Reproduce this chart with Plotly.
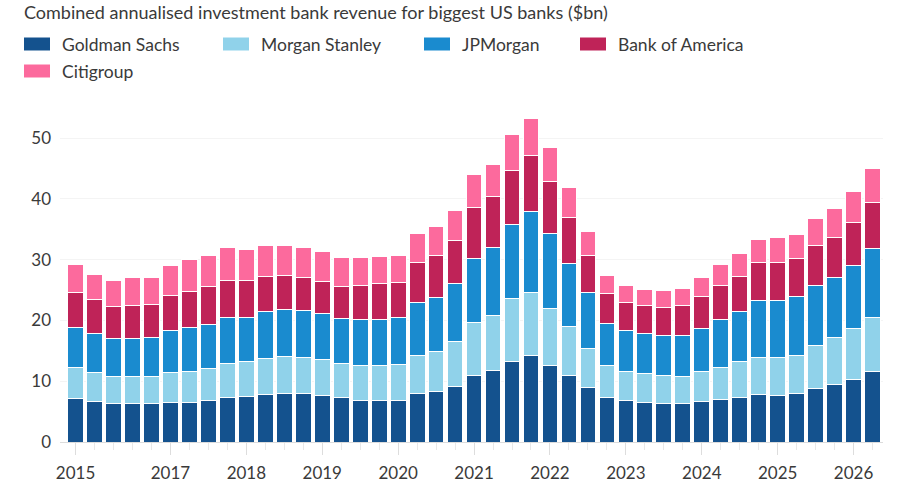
import plotly.graph_objects as go

# Quarterly periods (annualised trailing revenue), 2015 Q4 .. 2026 Q2
quarters = [f"{y} Q{q}" for y in range(2015, 2027) for q in range(1, 5)]
quarters = quarters[3:3 + 43]

goldman = [7.2, 6.7, 6.4, 6.4, 6.3, 6.5, 6.5, 6.8, 7.4, 7.5, 7.8, 8.0, 7.9, 7.6, 7.4,
           6.9, 6.8, 6.9, 7.9, 8.3, 9.1, 10.9, 11.8, 13.3, 14.2, 12.6, 10.9, 9.0, 7.4,
           6.8, 6.5, 6.4, 6.3, 6.7, 7.0, 7.3, 7.8, 7.6, 8.0, 8.8, 9.5, 10.3, 11.6]
morgan = [5.0, 4.8, 4.4, 4.3, 4.5, 4.9, 5.1, 5.3, 5.5, 5.8, 5.9, 6.1, 6.0, 5.9, 5.5,
          5.7, 5.8, 5.8, 6.3, 6.6, 7.4, 8.8, 9.0, 10.3, 10.4, 9.4, 8.1, 6.4, 5.2,
          4.8, 4.7, 4.5, 4.5, 4.9, 5.3, 5.9, 6.1, 6.3, 6.3, 7.0, 7.7, 8.3, 8.9]
jpm = [6.6, 6.4, 6.3, 6.4, 6.4, 7.0, 7.3, 7.3, 7.6, 7.2, 7.7, 7.7, 7.7, 7.6, 7.4,
       7.5, 7.5, 7.7, 8.7, 8.8, 9.5, 10.5, 11.2, 12.2, 13.3, 12.3, 10.4, 9.2, 6.9,
       6.7, 6.6, 6.6, 6.7, 7.0, 7.8, 8.3, 9.3, 9.4, 9.6, 10.0, 9.9, 10.4, 11.3]
bofa = [5.8, 5.5, 5.2, 5.4, 5.4, 5.7, 5.9, 6.1, 6.1, 6.1, 5.9, 5.6, 5.5, 5.3, 5.3,
        5.6, 5.9, 5.9, 6.7, 6.9, 7.1, 8.3, 8.3, 8.8, 9.2, 8.6, 7.5, 6.1, 5.0,
        4.7, 4.7, 4.7, 4.9, 5.3, 5.6, 5.8, 6.3, 6.3, 6.2, 6.6, 6.5, 7.1, 7.6]
citi = [4.6, 4.2, 4.3, 4.5, 4.4, 4.9, 5.2, 5.2, 5.4, 5.1, 5.0, 5.0, 4.9, 5.0, 4.7,
        4.6, 4.5, 4.4, 4.7, 4.9, 5.0, 5.5, 5.4, 5.9, 6.1, 5.5, 5.0, 3.9, 2.9,
        2.7, 2.6, 2.8, 2.9, 3.1, 3.5, 3.7, 3.8, 4.0, 4.0, 4.4, 4.8, 5.1, 5.6]

series_names = ["Goldman Sachs", "Morgan Stanley", "JPMorgan", "Bank of America", "Citigroup"]
series_vals = [goldman, morgan, jpm, bofa, citi]
colors = ["#14528e", "#90d2ea", "#1a8bcf", "#bf2358", "#fc6a9d"]

year_ticks = ["2015", "2017", "2018", "2019", "2020", "2021", "2022", "2023", "2024", "2025", "2026"]
year_tick_quarters = ["2015 Q4"] + [f"{y} Q1" for y in range(2017, 2027)]

FONT = "Lato, 'Open Sans', sans-serif"
TXT = "#3a3a3a"

W, H = 900, 500
ML, MR, MT, MB = 60, 17, 113, 58
PW, PH = W - ML - MR, H - MT - MB

x_idx = list(range(len(quarters)))

fig = go.Figure()
for name, vals, col in zip(series_names, series_vals, colors):
    fig.add_trace(go.Bar(
        x=x_idx, y=vals, name=name, marker=dict(color=col, line=dict(color="white", width=1)),
        customdata=quarters, hovertemplate="%{customdata}<br>" + name + ": $%{y}bn<extra></extra>",
        showlegend=False,
    ))

def px_x(p):
    return (p - ML) / PW

def px_y(p):
    return (H - MB - p) / PH

# custom legend (rectangular swatches)
legend_pos = [(24, 44), (223, 44), (424, 44), (580, 44), (24, 71)]
shapes = []
annots = []
for (lx, ly), name, col in zip(legend_pos, series_names, colors):
    shapes.append(dict(type="rect", xref="paper", yref="paper",
                       x0=px_x(lx), x1=px_x(lx + 26), y0=px_y(ly + 6.5), y1=px_y(ly - 6.5),
                       fillcolor=col, line=dict(width=0), layer="above"))
    annots.append(dict(text=name, xref="paper", yref="paper", x=px_x(lx + 36), y=px_y(ly),
                       xanchor="left", yanchor="middle", showarrow=False,
                       font=dict(family=FONT, size=17.5, color=TXT)))

fig.update_layout(
    width=W, height=H,
    margin=dict(l=ML, r=MR, t=MT, b=MB),
    paper_bgcolor="white", plot_bgcolor="white",
    barmode="stack", bargap=0.17,
    font=dict(family=FONT, size=17, color=TXT),
    title=dict(text="Combined annualised investment bank revenue for biggest US banks ($bn)",
               x=24 / W, xanchor="left", y=1 - 13 / H, yanchor="middle",
               font=dict(family=FONT, size=18, color=TXT)),
    shapes=shapes, annotations=annots,
    xaxis=dict(
        range=[-0.82, 42.55], tickmode="array",
        tickvals=[quarters.index(q) for q in year_tick_quarters], ticktext=year_ticks,
        ticks="outside", ticklen=12, tickcolor="#dddddd", tickwidth=1,
        minor=dict(dtick=1, tick0=0, ticks="outside", ticklen=7, tickcolor="#e8e8e8"),
        showgrid=False, zeroline=False, showline=False, ticklabelstandoff=4,
        tickfont=dict(family=FONT, size=17, color=TXT),
    ),
    yaxis=dict(
        range=[0, PH / 60.8 * 10], tickvals=[0, 10, 20, 30, 40, 50],
        showgrid=True, gridcolor="#f4f4f4", gridwidth=1, zeroline=True,
        zerolinecolor="#dcdcdc", zerolinewidth=1,
        ticks="", ticklabelstandoff=8,
        tickfont=dict(family=FONT, size=17, color=TXT),
    ),
)

fig.write_html("out.html")
